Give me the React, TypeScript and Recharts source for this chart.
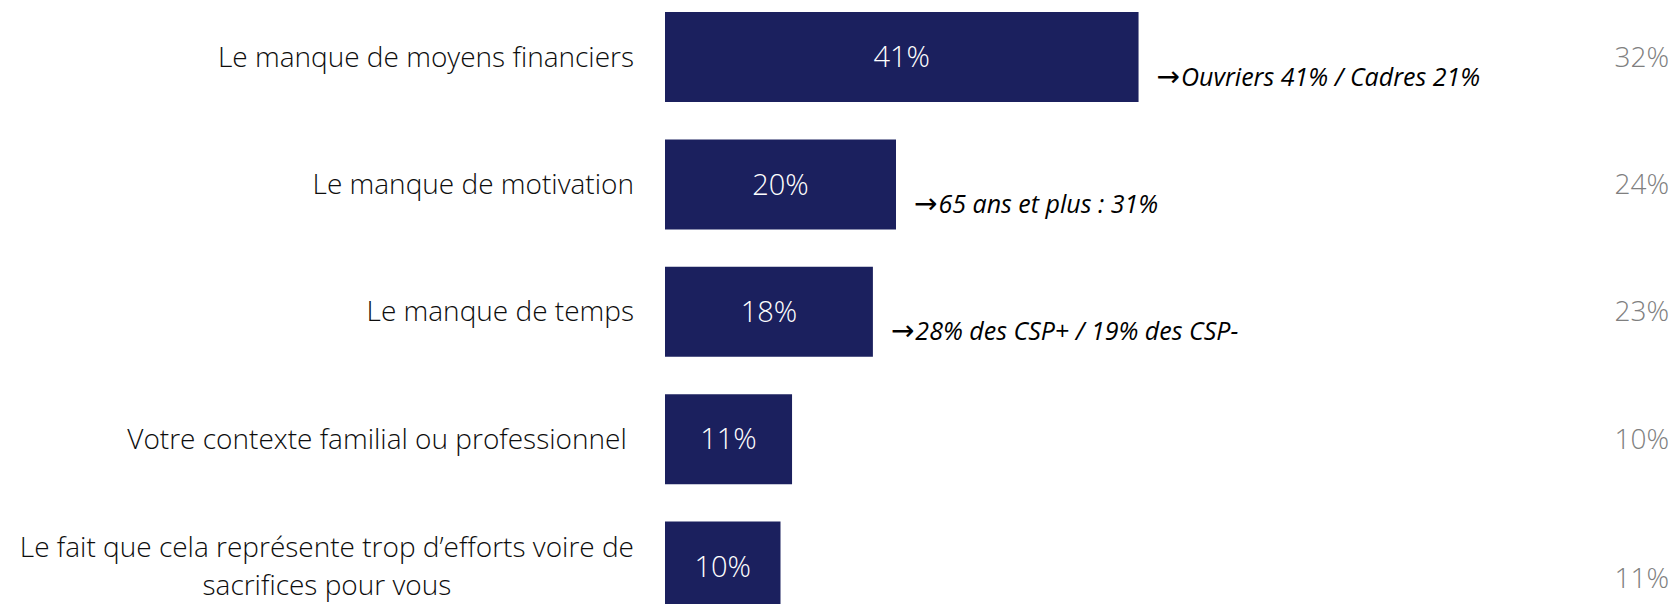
import React from 'react';
import { BarChart, Bar, XAxis, YAxis, LabelList } from 'recharts';

const categories = [
  'Le manque de moyens financiers',
  'Le manque de motivation',
  'Le manque de temps',
  'Votre contexte familial ou professionnel\u00a0',
  'Le fait que cela représente trop d\u2019efforts voire de\nsacrifices pour vous',
];
const currentValues = [41, 20, 18, 11, 10];
const previousValues = [32, 24, 23, 10, 11];
const notes = [
  'Ouvriers 41% / Cadres 21%',
  '65 ans et plus : 31%',
  '28% des CSP+ / 19% des CSP-',
  '',
  '',
];

const data = categories.map((name, i) => ({
  name,
  value: currentValues[i],
  prev: previousValues[i],
  note: notes[i],
}));

const FONT = '"Open Sans", "DejaVu Sans", sans-serif';
const LABEL_SIZE = 28;
const LINE_HEIGHT = 38;
const BAR_COLOR = '#1b205e';

let measureCtx: CanvasRenderingContext2D | null = null;
const measure = (text: string, font: string) => {
  if (!measureCtx) measureCtx = document.createElement('canvas').getContext('2d');
  if (!measureCtx) return text.length * 10;
  measureCtx.font = font;
  return measureCtx.measureText(text).width;
};

// left labels: right aligned, wrapped ones centred on their widest line
const CategoryTick = (props: any) => {
  const { x, y, payload } = props;
  const lines = String(payload.value).split('\n');
  const style = { fontFamily: FONT, fontSize: LABEL_SIZE, fontWeight: 300, fill: '#0d0d0d' };
  if (lines.length === 1) {
    return (
      <text x={x} y={y} dy="0.35em" textAnchor="end" {...style}>
        {lines[0]}
      </text>
    );
  }
  const widest = Math.max(...lines.map((l) => measure(l, `300 ${LABEL_SIZE}px ${FONT}`)));
  const cx = x - widest / 2;
  return (
    <text textAnchor="middle" {...style}>
      {lines.map((l, i) => (
        <tspan key={i} x={cx} y={y + (i - (lines.length - 1) / 2) * LINE_HEIGHT} dy="0.35em">
          {l}
        </tspan>
      ))}
    </text>
  );
};

// previous wave score at the far right; sits a bit lower on wrapped rows
const PrevTick = (props: any) => {
  const { x, y, payload, index } = props;
  const wrapped = categories[index] && categories[index].includes('\n');
  return (
    <text
      x={x}
      y={y + (wrapped ? 12 : 0)}
      dy="0.35em"
      textAnchor="end"
      fill="#7f7f7f"
      fontSize={28}
      fontFamily={FONT}
      fontWeight={300}
    >
      {`${payload.value}%`}
    </text>
  );
};

const NoteLabel = (props: any) => {
  const { x, y, width, height, value } = props;
  if (!value) return null;
  return (
    <text
      x={x + width + 18}
      y={y + height * 0.72}
      dy="0.35em"
      fontFamily={FONT}
      fontSize={25}
      fontStyle="italic"
      fill="#000"
    >
      <tspan fontStyle="normal" fontFamily='"DejaVu Sans", sans-serif' fontSize={28}>→</tspan>
      <tspan dx={1}>{value}</tspan>
    </text>
  );
};

export default function App() {
  return (
    <div style={{ position: 'absolute', left: 0, top: -7 }}>
      <BarChart
        width={1674}
        height={637}
        data={data}
        layout="vertical"
        margin={{ top: 0, right: 0, bottom: 0, left: 0 }}
      >
        <XAxis type="number" domain={[0, 80]} hide />
        <YAxis
          yAxisId="left"
          type="category"
          dataKey="name"
          width={665}
          axisLine={false}
          tickLine={false}
          tickSize={0}
          tickMargin={31}
          interval={0}
          tick={<CategoryTick />}
        />
        <YAxis
          yAxisId="right"
          orientation="right"
          type="category"
          dataKey="prev"
          width={85}
          axisLine={false}
          tickLine={false}
          tickSize={0}
          tickMargin={80}
          interval={0}
          tick={<PrevTick />}
        />
        <Bar yAxisId="left" dataKey="value" fill={BAR_COLOR} barSize={90} isAnimationActive={false}>
          <LabelList
            dataKey="value"
            position="center"
            formatter={(v: number) => `${v}%`}
            fill="#fff"
            fontSize={29}
            fontFamily={FONT}
            fontWeight={300}
          />
          <LabelList dataKey="note" content={<NoteLabel />} />
        </Bar>
      </BarChart>
    </div>
  );
}
